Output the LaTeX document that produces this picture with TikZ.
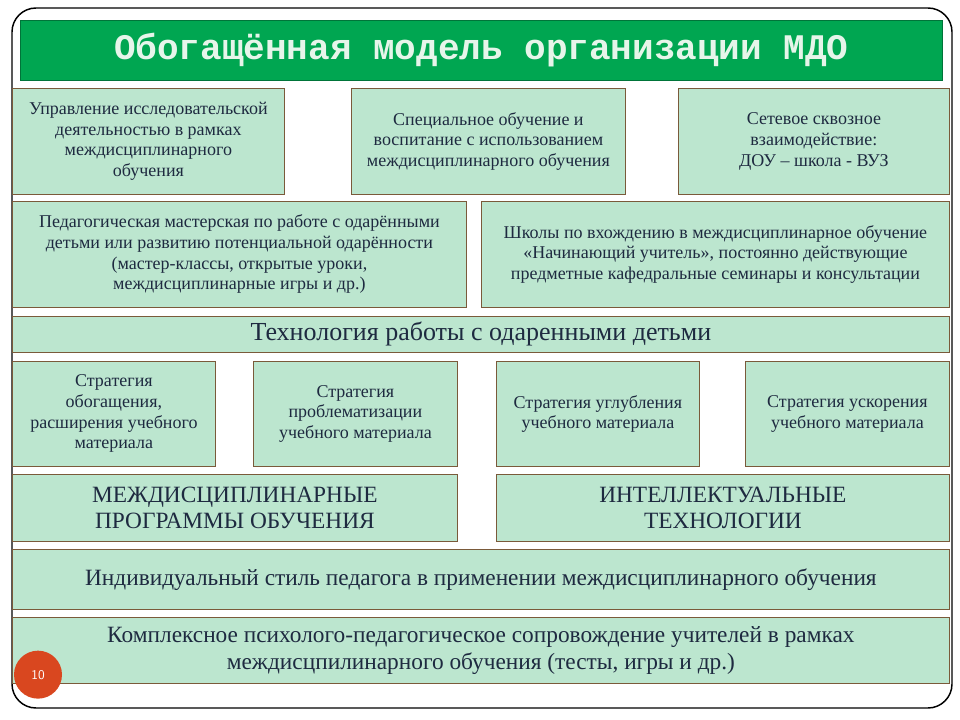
\documentclass[tikz,border=0pt]{standalone}
\usepackage{fontspec}
\setmainfont{Liberation Serif}
\newfontfamily\titlefont{Liberation Mono}
\definecolor{boxfill}{HTML}{BCE6CF}
\definecolor{boxline}{HTML}{7A5A3A}
\definecolor{txt}{HTML}{1E2A40}
\definecolor{titlegreen}{HTML}{00A651}
\definecolor{titletxt}{HTML}{E6F5EA}
\definecolor{pagec}{HTML}{D9471F}
\tikzset{box/.style={draw=boxline,fill=boxfill,line width=0.6pt,text=txt,align=center,inner sep=2pt,anchor=north west},
 small/.style={font=\fontsize{13.5}{15.5}\selectfont},
 big/.style={font=\fontsize{17.5}{20}\selectfont}}
\newcommand{\bx}[7]{%
 \pgfmathsetmacro\bw{(#4-#2)*0.75}\pgfmathsetmacro\bh{(#5-#3)*0.75}%
 \node[box,#6,minimum width=\bw pt,minimum height=\bh pt] (#1) at (#2*0.75pt,-#3*0.75pt) {#7};}
\begin{document}
\begin{tikzpicture}
\useasboundingbox (0,0) rectangle (720pt,-540pt);
\draw[line width=1.1pt,rounded corners=18pt] (9pt,-6pt) rectangle (714pt,-531pt);
\bx{title}{20}{20}{942}{80}{draw=titlegreen!70!black,fill=titlegreen,text=titletxt,font=\titlefont\bfseries\fontsize{27}{30}\selectfont}{Обогащённая модель организации МДО}
\bx{a}{12}{88}{284}{194}{small}{Управление исследовательской\\деятельностью в рамках\\междисциплинарного\\обучения}
\bx{b}{351}{88}{625}{194}{small}{Специальное обучение и\\воспитание с использованием\\междисциплинарного обучения}
\bx{c}{678}{88}{949}{194}{small}{Сетевое сквозное\\взаимодействие:\\ДОУ – школа - ВУЗ}
\bx{d}{12}{201}{466}{307}{small}{Педагогическая мастерская по работе с одарёнными\\детьми или развитию потенциальной одарённости\\(мастер-классы, открытые уроки,\\междисциплинарные игры и др.)}
\bx{e}{481}{201}{949}{307}{small}{Школы по вхождению в междисциплинарное обучение\\«Начинающий учитель», постоянно действующие\\предметные кафедральные семинары и консультации}
\bx{f}{12}{316}{949}{352}{font=\fontsize{19.5}{22}\selectfont}{Технология работы с одаренными детьми}
\bx{g1}{12}{361}{215}{466}{small}{Стратегия\\обогащения,\\расширения учебного\\материала}
\bx{g2}{253}{361}{457}{466}{small}{Стратегия\\проблематизации\\учебного материала}
\bx{g3}{496}{361}{699}{466}{small}{Стратегия углубления\\учебного материала}
\bx{g4}{745}{361}{949}{466}{small}{Стратегия ускорения\\учебного материала}
\bx{h1}{12}{474}{457}{541}{big}{МЕЖДИСЦИПЛИНАРНЫЕ\\ПРОГРАММЫ ОБУЧЕНИЯ}
\bx{h2}{496}{474}{949}{541}{big}{ИНТЕЛЛЕКТУАЛЬНЫЕ\\ТЕХНОЛОГИИ}
\bx{i}{12}{549}{949}{609}{big}{Индивидуальный стиль педагога в применении междисциплинарного обучения}
\bx{j}{12}{617}{949}{683}{big}{Комплексное психолого-педагогическое сопровождение учителей в рамках\\междисцпилинарного обучения (тесты, игры и др.)}
\node[circle,fill=pagec,text=white,minimum size=36pt,inner sep=0pt,font=\sffamily\fontsize{10}{12}\selectfont] (pg) at (28.5pt,-506pt) {10};
\end{tikzpicture}
\end{document}
